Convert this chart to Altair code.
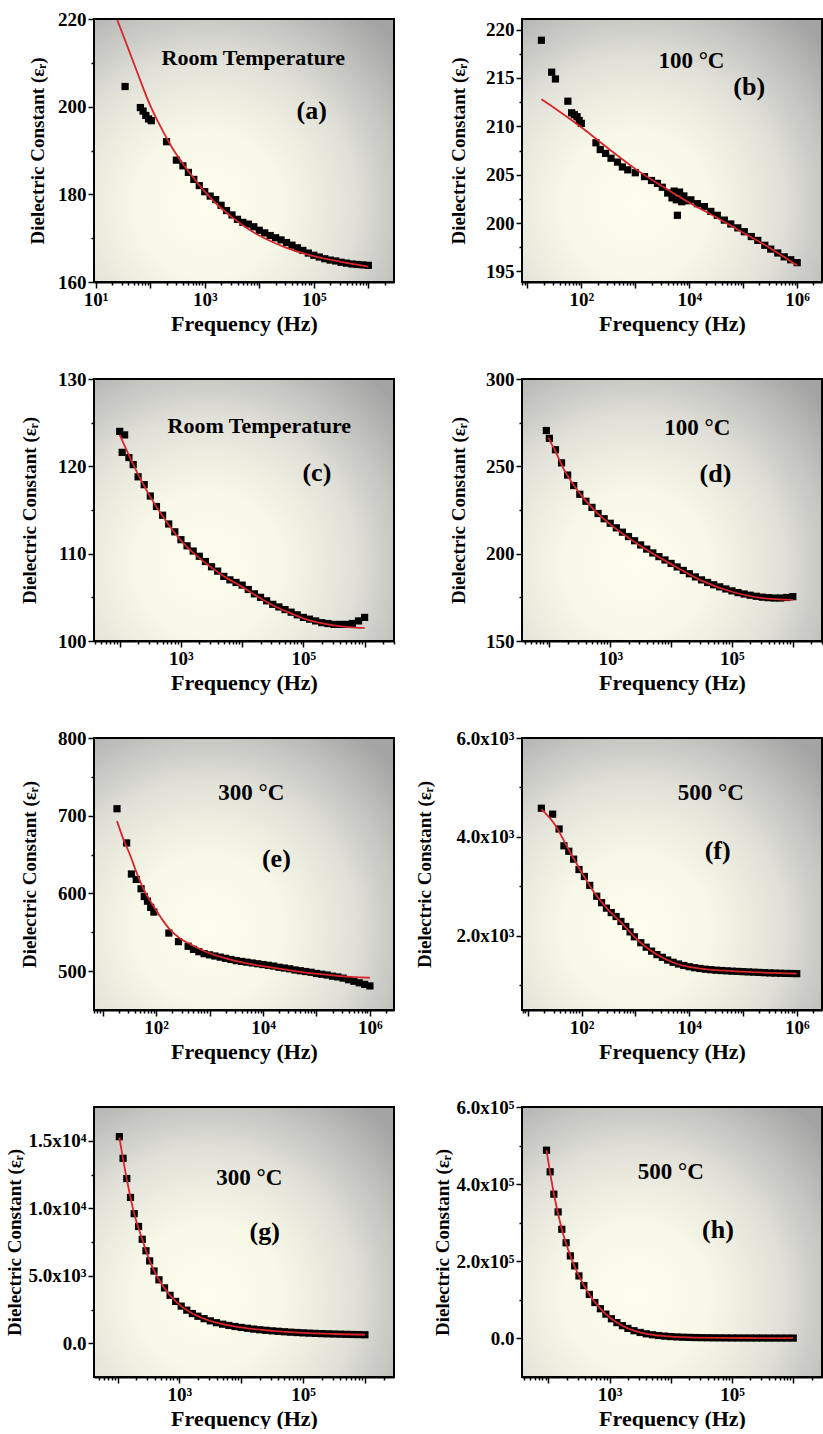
import math
import altair as alt
import pandas as pd

FONT = "Liberation Serif"
FIT_RED = "#d8262b"
SUP = {0: "⁰", 1: "¹", 2: "²", 3: "³", 4: "⁴", 5: "⁵", 6: "⁶"}
EPS_TITLE = "Dielectric Constant (εᵣ)"
FREQ_TITLE = "Frequency (Hz)"

# ---------------------------------------------------------------------------
# Measured points (log10 of frequency in Hz) and fitted curves, per panel
# ---------------------------------------------------------------------------
# (a) room temperature
A_LOGF = [1.54, 1.82, 1.87, 1.92, 1.97, 2.02, 2.30, 2.48, 2.60, 2.70, 2.80, 2.90,
          3.00, 3.10, 3.20, 3.30, 3.40, 3.50, 3.60, 3.70, 3.80, 3.90, 4.00, 4.10,
          4.20, 4.30, 4.40, 4.50, 4.60, 4.70, 4.80, 4.90, 5.00, 5.10, 5.20, 5.30,
          5.40, 5.50, 5.60, 5.70, 5.80, 5.90, 6.00]
A_EPS = [204.6, 199.8, 199.0, 198.0, 197.2, 196.8, 192.0, 187.8, 186.5, 185.0, 183.4, 182.0,
         180.6, 179.6, 178.8, 177.5, 176.3, 175.3, 174.3, 173.6, 173.2, 172.6, 171.8, 171.2,
         170.6, 170.1, 169.6, 169.0, 168.4, 167.8, 167.2, 166.6, 166.1, 165.7, 165.3, 165.0,
         164.8, 164.5, 164.3, 164.1, 164.0, 163.9, 163.8]
A_FIT_LOGF = [1.39, 1.60, 1.80, 2.00, 2.20, 2.40, 2.60, 2.80, 3.00, 3.25, 3.50, 3.75,
              4.00, 4.50, 5.00, 5.50, 6.00]
A_FIT_EPS = [220.0, 213.2, 206.6, 200.3, 195.2, 190.7, 187.0, 183.7, 180.6, 177.4, 174.8, 172.5,
             170.6, 167.8, 165.9, 164.6, 163.5]

# (b) 100 °C
B_LOGF = [1.26, 1.45, 1.52, 1.75, 1.82, 1.87, 1.92, 1.96, 2.00, 2.27, 2.35, 2.45,
          2.55, 2.67, 2.76, 2.86, 3.00, 3.17, 3.30, 3.41, 3.50, 3.60, 3.68, 3.72,
          3.76, 3.78, 3.82, 3.86, 3.90, 3.95, 4.03, 4.15, 4.28, 4.40, 4.52, 4.65,
          4.77, 4.90, 5.02, 5.15, 5.27, 5.40, 5.51, 5.64, 5.76, 5.88, 6.00]
B_EPS = [218.9, 215.6, 214.9, 212.6, 211.4, 211.2, 211.0, 210.6, 210.3, 208.3, 207.6, 207.2,
         206.7, 206.3, 205.8, 205.5, 205.2, 204.8, 204.4, 204.1, 203.7, 203.1, 202.6, 203.3,
         202.4, 200.8, 203.2, 202.2, 202.8, 202.3, 202.4, 202.0, 201.7, 201.2, 200.8, 200.3,
         199.9, 199.5, 199.1, 198.6, 198.2, 197.7, 197.3, 196.9, 196.5, 196.2, 195.9]
B_FIT_LOGF = [1.26, 1.50, 2.00, 2.50, 3.00, 3.50, 4.00, 4.50, 5.00, 5.50, 6.00]
B_FIT_EPS = [212.8, 211.9, 209.9, 207.7, 205.6, 203.8, 202.1, 200.6, 199.0, 197.4, 195.6]

# (c) room temperature
C_LOGF = [2.00, 2.04, 2.08, 2.15, 2.22, 2.30, 2.40, 2.50, 2.60, 2.70, 2.80, 2.90,
          3.00, 3.10, 3.20, 3.30, 3.40, 3.50, 3.60, 3.70, 3.80, 3.90, 4.00, 4.10,
          4.20, 4.30, 4.40, 4.50, 4.60, 4.70, 4.80, 4.90, 5.00, 5.10, 5.20, 5.30,
          5.40, 5.50, 5.60, 5.70, 5.80, 5.90, 6.00]
C_EPS = [124.0, 121.6, 123.6, 121.0, 120.2, 118.8, 117.9, 116.6, 115.4, 114.4, 113.4, 112.5,
         111.6, 110.9, 110.3, 109.7, 109.1, 108.5, 108.0, 107.4, 107.0, 106.7, 106.4, 105.9,
         105.4, 105.0, 104.6, 104.2, 103.9, 103.6, 103.3, 103.0, 102.7, 102.5, 102.3, 102.1,
         102.0, 101.9, 101.9, 101.9, 102.0, 102.3, 102.7]
C_FIT_LOGF = [2.00, 2.25, 2.50, 2.75, 3.00, 3.25, 3.50, 3.75, 4.00, 4.25, 4.50, 4.75,
              5.00, 5.25, 5.50, 5.75, 6.00]
C_FIT_EPS = [123.6, 119.8, 116.5, 113.8, 111.5, 109.8, 108.4, 107.2, 106.2, 105.1, 104.1, 103.3,
             102.6, 102.1, 101.8, 101.6, 101.5]

# (d) 100 °C
D_LOGF = [1.95, 2.00, 2.10, 2.20, 2.30, 2.40, 2.50, 2.60, 2.70, 2.80, 2.90, 3.00,
          3.10, 3.20, 3.30, 3.40, 3.50, 3.60, 3.70, 3.80, 3.90, 4.00, 4.10, 4.20,
          4.30, 4.40, 4.50, 4.60, 4.70, 4.80, 4.90, 5.00, 5.10, 5.20, 5.30, 5.40,
          5.50, 5.60, 5.70, 5.80, 5.90, 6.00]
D_EPS = [270.5, 266.0, 259.5, 252.0, 245.0, 239.0, 234.0, 230.0, 226.5, 223.0, 220.0, 217.4,
         214.8, 212.3, 209.8, 207.4, 205.0, 202.6, 200.4, 198.3, 196.4, 194.4, 192.4, 190.4,
         188.5, 186.7, 185.0, 183.5, 182.2, 181.0, 179.8, 178.7, 177.7, 176.9, 176.2, 175.6,
         175.1, 174.8, 174.6, 174.6, 174.9, 175.4]
D_FIT_LOGF = [1.98, 2.10, 2.25, 2.50, 2.75, 3.00, 3.50, 4.00, 4.50, 5.00, 5.50, 6.00]
D_FIT_EPS = [266.5, 258.5, 247.5, 234.5, 224.5, 216.8, 204.4, 194.0, 184.6, 178.2, 174.6, 173.6]

# (e) 300 °C
E_LOGF = [1.27, 1.45, 1.54, 1.63, 1.72, 1.78, 1.84, 1.90, 1.96, 2.24, 2.42, 2.60,
          2.70, 2.80, 2.90, 3.00, 3.10, 3.20, 3.30, 3.40, 3.50, 3.60, 3.70, 3.80,
          3.90, 4.00, 4.10, 4.20, 4.30, 4.40, 4.50, 4.60, 4.70, 4.80, 4.90, 5.00,
          5.10, 5.20, 5.30, 5.40, 5.50, 5.60, 5.70, 5.80, 5.90, 6.00]
E_EPS = [709, 665, 625, 618, 606, 596, 590, 582, 576, 549, 538, 532,
         528, 525, 522.5, 521, 519.5, 518, 516.5, 515, 513.5, 512.5, 511.5, 510.5,
         509.5, 508.5, 507.5, 506.5, 505, 504, 503, 501.5, 500.5, 499.5, 498.5, 497,
         496, 495, 493.5, 492.5, 491, 489, 487, 485, 483, 481]
E_FIT_LOGF = [1.27, 1.40, 1.50, 1.63, 1.75, 1.93, 2.10, 2.24, 2.45, 2.66, 3.00, 3.27,
              3.70, 4.18, 4.80, 5.39, 6.00]
E_FIT_EPS = [693, 668, 652, 628, 608, 586, 568, 555, 542, 534, 523, 517,
             510, 504.5, 498, 494, 491.5]

# (f) 500 °C
F_LOGF = [1.25, 1.46, 1.58, 1.67, 1.76, 1.85, 1.95, 2.05, 2.15, 2.28, 2.37, 2.46,
          2.55, 2.64, 2.73, 2.82, 2.90, 2.98, 3.10, 3.20, 3.30, 3.40, 3.50, 3.60,
          3.70, 3.80, 3.90, 4.00, 4.10, 4.20, 4.30, 4.40, 4.50, 4.60, 4.70, 4.80,
          4.90, 5.00, 5.10, 5.20, 5.30, 5.40, 5.50, 5.60, 5.70, 5.80, 5.90, 6.00]
F_EPS = [4580, 4460, 4160, 3820, 3710, 3550, 3340, 3200, 3020, 2800, 2670, 2560,
         2470, 2390, 2290, 2190, 2080, 1980, 1860, 1770, 1690, 1620, 1565, 1510,
         1465, 1430, 1400, 1375, 1355, 1340, 1325, 1315, 1305, 1298, 1292, 1285,
         1280, 1275, 1270, 1265, 1260, 1255, 1250, 1246, 1243, 1240, 1238, 1235]
F_FIT_LOGF = [1.25, 1.50, 1.75, 2.00, 2.25, 2.50, 2.75, 3.00, 3.25, 3.50, 3.75, 4.00,
              4.50, 5.00, 5.50, 6.00]
F_FIT_EPS = [4560, 4250, 3760, 3280, 2850, 2520, 2250, 1960, 1730, 1560, 1440, 1370,
             1305, 1275, 1250, 1235]

# (g) 300 °C
G_LOGF = [2.03, 2.09, 2.15, 2.21, 2.27, 2.34, 2.40, 2.46, 2.52, 2.59, 2.67, 2.76,
          2.85, 2.94, 3.03, 3.12, 3.21, 3.30, 3.40, 3.50, 3.60, 3.70, 3.80, 3.90,
          4.00, 4.10, 4.20, 4.30, 4.40, 4.50, 4.60, 4.70, 4.80, 4.90, 5.00, 5.10,
          5.20, 5.30, 5.40, 5.50, 5.60, 5.70, 5.80, 5.90, 6.00]
G_EPS = [15300, 13700, 12200, 10800, 9600, 8650, 7700, 6850, 6100, 5350, 4700, 4100,
         3550, 3100, 2750, 2450, 2200, 2000, 1820, 1660, 1520, 1410, 1320, 1240,
         1170, 1110, 1050, 1000, 960, 920, 885, 850, 820, 795, 770, 750,
         730, 712, 698, 685, 672, 660, 650, 640, 630]
G_FIT_LOGF = [2.03, 2.15, 2.27, 2.40, 2.52, 2.67, 2.85, 3.03, 3.30, 3.60, 4.00, 4.50,
              5.00, 5.50, 6.00]
G_FIT_EPS = [15250, 12150, 9600, 7700, 6100, 4700, 3550, 2750, 2000, 1520, 1170, 920,
             770, 685, 630]

# (h) 500 °C
H_LOGF = [1.97, 2.03, 2.09, 2.16, 2.22, 2.29, 2.36, 2.43, 2.50, 2.58, 2.67, 2.76,
          2.85, 2.94, 3.03, 3.12, 3.21, 3.30, 3.40, 3.50, 3.60, 3.70, 3.80, 3.90,
          4.00, 4.10, 4.20, 4.30, 4.40, 4.50, 4.60, 4.70, 4.80, 4.90, 5.00, 5.10,
          5.20, 5.30, 5.40, 5.50, 5.60, 5.70, 5.80, 5.90, 6.00]
H_EPS = [488000, 432000, 374000, 328000, 283000, 248000, 214000, 188000, 162000, 137000, 114000, 93000,
         77000, 63000, 51000, 41000, 33000, 26000, 20000, 15500, 12000, 9500, 7500, 6000,
         4800, 3900, 3200, 2700, 2300, 2000, 1800, 1600, 1450, 1350, 1250, 1180,
         1120, 1070, 1030, 1000, 970, 950, 930, 915, 900]
H_FIT_LOGF = [1.97, 2.09, 2.22, 2.36, 2.50, 2.67, 2.85, 3.03, 3.21, 3.40, 3.60, 3.90,
              4.30, 4.80, 5.40, 6.00]
H_FIT_EPS = [488000, 375000, 283000, 214000, 162000, 114000, 77000, 51000, 33000, 20000, 12000, 6000,
             2700, 1450, 1030, 900]

# ---------------------------------------------------------------------------
# Axis ranges, tick values and tick labels
# ---------------------------------------------------------------------------
X_RANGES = {"a": (0.97, 6.47), "b": (0.90, 6.46), "c": (1.58, 6.48), "d": (1.55, 6.48),
            "e": (0.84, 6.45), "f": (0.89, 6.47), "g": (1.62, 6.47), "h": (1.57, 6.47)}
X_LABELLED = {"a": [1, 3, 5], "b": [2, 4, 6], "c": [3, 5], "d": [3, 5],
              "e": [2, 4, 6], "f": [2, 4, 6], "g": [3, 5], "h": [3, 5]}

Y_RANGES = {"a": (160, 220), "b": (193.9, 221.1), "c": (100, 130), "d": (150, 300),
            "e": (450, 800), "f": (500, 6000), "g": (-2500, 17500), "h": (-100000, 600000)}
Y_LABELS = {
    "a": {160: "160", 180: "180", 200: "200", 220: "220"},
    "b": {195: "195", 200: "200", 205: "205", 210: "210", 215: "215", 220: "220"},
    "c": {100: "100", 110: "110", 120: "120", 130: "130"},
    "d": {150: "150", 200: "200", 250: "250", 300: "300"},
    "e": {500: "500", 600: "600", 700: "700", 800: "800"},
    "f": {2000: "2.0x10³", 4000: "4.0x10³", 6000: "6.0x10³"},
    "g": {0: "0.0", 5000: "5.0x10³", 10000: "1.0x10⁴", 15000: "1.5x10⁴"},
    "h": {0: "0.0", 200000: "2.0x10⁵", 400000: "4.0x10⁵", 600000: "6.0x10⁵"},
}
Y_MINOR = {"a": [170, 190, 210],
           "b": [197.5, 202.5, 207.5, 212.5, 217.5],
           "c": [105, 115, 125],
           "d": [175, 225, 275],
           "e": [550, 650, 750],
           "f": [1000, 3000, 5000],
           "g": [2500, 7500, 12500],
           "h": [100000, 300000, 500000]}
# room reserved for ticks + labels on the left axis (pushes the title outward)
Y_EXTENT = {"a": 43, "b": 50, "c": 51, "d": 50, "e": 51, "f": 84, "g": 30, "h": 30}

# In-plot annotations: text, log10 f, value, font size
NOTES = {
    "a": [("Room Temperature", 3.89, 211.2, 22), ("(a)", 4.96, 198.9, 26)],
    "b": [("100 °C", 4.04, 216.8, 23), ("(b)", 5.11, 214.1, 26)],
    "c": [("Room Temperature", 4.28, 124.6, 22), ("(c)", 5.22, 119.2, 26)],
    "d": [("100 °C", 4.43, 271.9, 23), ("(d)", 4.73, 245.5, 26)],
    "e": [("300 °C", 3.78, 728.8, 23), ("(e)", 4.25, 644.8, 26)],
    "f": [("500 °C", 4.40, 4878, 23), ("(f)", 4.53, 3714, 26)],
    "g": [("300 °C", 4.13, 12239, 23), ("(g)", 4.38, 8209, 26)],
    "h": [("500 °C", 4.00, 431000, 23), ("(h)", 4.77, 281000, 26)],
}

SERIES = {
    "a": (A_LOGF, A_EPS, A_FIT_LOGF, A_FIT_EPS),
    "b": (B_LOGF, B_EPS, B_FIT_LOGF, B_FIT_EPS),
    "c": (C_LOGF, C_EPS, C_FIT_LOGF, C_FIT_EPS),
    "d": (D_LOGF, D_EPS, D_FIT_LOGF, D_FIT_EPS),
    "e": (E_LOGF, E_EPS, E_FIT_LOGF, E_FIT_EPS),
    "f": (F_LOGF, F_EPS, F_FIT_LOGF, F_FIT_EPS),
    "g": (G_LOGF, G_EPS, G_FIT_LOGF, G_FIT_EPS),
    "h": (H_LOGF, H_EPS, H_FIT_LOGF, H_FIT_EPS),
}

# Panel sizes (plot area) and grid layout
PANEL_W = 300
ROW_H = [263, 262, 272, 270]
ORDER = ["a", "b", "c", "d", "e", "f", "g", "h"]

# Cream centre fading to grey towards the frame
BACKDROP = {
    "gradient": "radial",
    "x1": 0.38, "y1": 0.68, "r1": 0.0,
    "x2": 0.38, "y2": 0.68, "r2": 0.82,
    "stops": [
        {"offset": 0.0, "color": "#fefeee"},
        {"offset": 0.3, "color": "#f8f8e8"},
        {"offset": 0.6, "color": "#e0e0d8"},
        {"offset": 0.85, "color": "#bbbbb9"},
        {"offset": 1.0, "color": "#a4a4a4"},
    ],
}


def x_label_expr(exponents):
    e = "round(log(datum.value) / LN10)"
    expr = "''"
    for k in reversed(exponents):
        expr = f"{e} == {k} ? '10{SUP[k]}' : {expr}"
    return expr


def y_label_expr(labels):
    expr = "''"
    for v in sorted(labels, reverse=True):
        expr = f"abs(datum.value - ({v})) < 1e-6 ? '{labels[v]}' : {expr}"
    return expr


def panel(key, w, h):
    logf, eps, fit_logf, fit_eps = SERIES[key]
    pts = pd.DataFrame({"f": [10 ** v for v in logf], "eps": eps})
    fit = pd.DataFrame({"f": [10 ** v for v in fit_logf], "eps": fit_eps})
    notes = pd.DataFrame({
        "label": [n[0] for n in NOTES[key]],
        "f": [10 ** n[1] for n in NOTES[key]],
        "eps": [n[2] for n in NOTES[key]],
        "fs": [n[3] for n in NOTES[key]],
    })
    lo, hi = X_RANGES[key]
    xscale = alt.Scale(type="log", domain=[10 ** lo, 10 ** hi], nice=False)
    yscale = alt.Scale(domain=list(Y_RANGES[key]), nice=False, zero=False)

    decades = [10 ** k for k in range(0, 8) if lo <= k <= hi]
    minors = [m * 10 ** k for k in range(0, 7) for m in range(2, 10)
              if lo <= math.log10(m * 10 ** k) <= hi]

    x_major = alt.Axis(values=decades, labelExpr=x_label_expr(X_LABELLED[key]),
                       title=FREQ_TITLE, orient="bottom", tickSize=6,
                       labelOverlap=False, labelFlush=False)
    x_minor = alt.Axis(values=minors, labels=False, title=None, orient="bottom",
                       tickSize=3, domain=False)
    ylabels = Y_LABELS[key]
    y_major = alt.Axis(values=list(ylabels.keys()), labelExpr=y_label_expr(ylabels),
                       title=EPS_TITLE, orient="left", tickSize=6, labelOverlap=False,
                       minExtent=Y_EXTENT[key])
    y_minor = alt.Axis(values=Y_MINOR[key], labels=False, title=None, orient="left",
                       tickSize=3, domain=False)

    one = pd.DataFrame({"k": [0]})
    backdrop = alt.Chart(one).mark_rect(fill=BACKDROP, strokeWidth=0).encode(
        x=alt.value(0), x2=alt.value(w), y=alt.value(0), y2=alt.value(h))

    squares = alt.Chart(pts).mark_square(size=52, color="black", opacity=1).encode(
        x=alt.X("f:Q", scale=xscale, axis=x_major),
        y=alt.Y("eps:Q", scale=yscale, axis=y_major),
    )
    curve = alt.Chart(fit).mark_line(color=FIT_RED, strokeWidth=1.8, interpolate="monotone").encode(
        x=alt.X("f:Q", scale=xscale, axis=x_minor),
        y=alt.Y("eps:Q", scale=yscale, axis=y_minor),
    )
    text = alt.Chart(notes).mark_text(font=FONT, fontWeight="bold", color="black",
                                      align="center", baseline="middle").encode(
        x=alt.X("f:Q", scale=xscale, axis=None),
        y=alt.Y("eps:Q", scale=yscale, axis=None),
        text="label:N",
        size=alt.Size("fs:Q", scale=None, legend=None),
    )
    frame = alt.Chart(one).mark_rect(filled=False, stroke="black", strokeWidth=2).encode(
        x=alt.value(0), x2=alt.value(w), y=alt.value(0), y2=alt.value(h))

    return (alt.layer(backdrop, squares, curve, text, frame)
            .resolve_axis(x="independent", y="independent")
            .properties(width=w, height=h))


charts = [panel(k, PANEL_W, ROW_H[i // 2]) for i, k in enumerate(ORDER)]

chart = (
    alt.concat(*charts, columns=2, spacing={"row": 36, "column": 20}, align="each")
    .properties(padding={"left": 5, "top": 10, "right": 0, "bottom": 0}, background="white")
    .configure_view(stroke=None)
    .configure_axis(
        labelFont=FONT, labelFontWeight="bold", labelFontSize=19, labelColor="black",
        titleFont=FONT, titleFontWeight="bold", titleFontSize=19, titleColor="black",
        tickColor="black", tickWidth=1.5, domainColor="black", domainWidth=2,
        labelPadding=2, titlePadding=4, grid=False,
    )
    .configure_axisBottom(titleFontSize=22)
)

chart.save("out.html", embed_options={"renderer": "svg", "actions": False})
